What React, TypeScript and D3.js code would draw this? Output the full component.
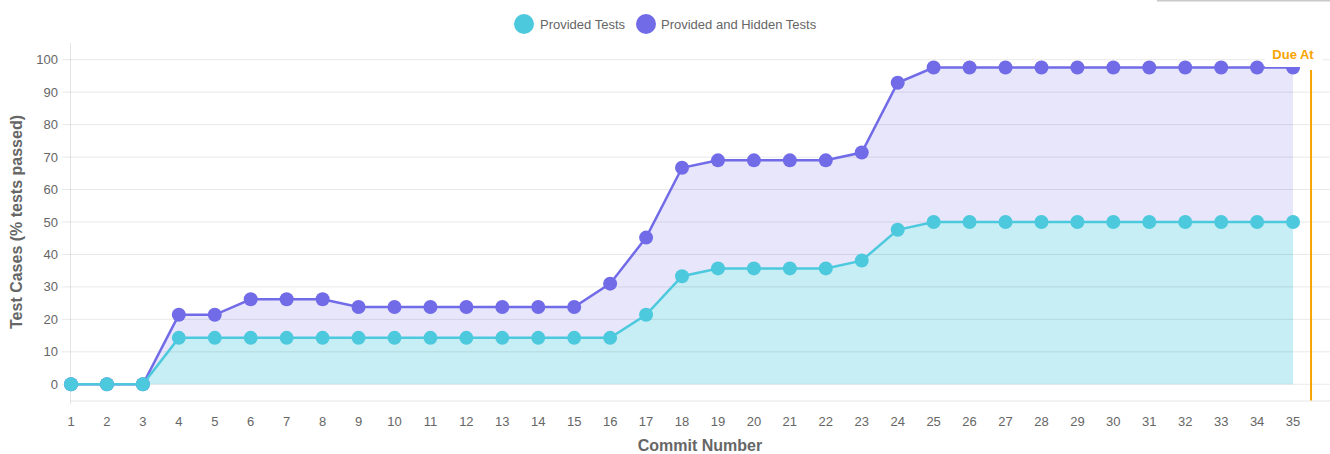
import React from "react";
import * as d3 from "d3";

const commits: number[] = Array.from({ length: 35 }, (_, i) => i + 1);
const providedTests: number[] = [
  0, 0, 0, 14.3, 14.3, 14.3, 14.3, 14.3, 14.3, 14.3, 14.3, 14.3, 14.3, 14.3, 14.3, 14.3,
  21.4, 33.3, 35.7, 35.7, 35.7, 35.7, 38.1, 47.6, 50, 50, 50, 50, 50, 50, 50, 50, 50, 50, 50,
];
const hiddenTests: number[] = [
  0, 0, 0, 21.4, 21.4, 26.2, 26.2, 26.2, 23.8, 23.8, 23.8, 23.8, 23.8, 23.8, 23.8, 31,
  45.2, 66.7, 69, 69, 69, 69, 71.4, 92.9, 97.6, 97.6, 97.6, 97.6, 97.6, 97.6, 97.6, 97.6, 97.6, 97.6, 97.6,
];
const yTicks: number[] = [0, 10, 20, 30, 40, 50, 60, 70, 80, 90, 100];
const dueAt = 35.5;
const seriesNames: string[] = ["Provided Tests", "Provided and Hidden Tests"];

const W = 1330;
const H = 454;
const CYAN = "#4dc9de";
const PURPLE = "#716be8";
const ORANGE = "#f7a400";
const FONT = "'Liberation Sans', Arial, Helvetica, sans-serif";

export default function App() {
  const x = d3.scaleLinear().domain([1, 36]).range([71, 1329]);
  const y = d3.scaleLinear().domain([-5, 105]).range([400.5, 43.5]);
  const left = 70.5;
  const right = 1330;
  const top = 43;
  const bottom = 400.5;

  const line = d3
    .line<number>()
    .x((_, i) => x(commits[i]))
    .y((d) => y(d));
  const areaCyan = d3
    .area<number>()
    .x((_, i) => x(commits[i]))
    .y0(y(0))
    .y1((d) => y(d));
  const areaPurple = d3
    .area<number>()
    .x((_, i) => x(commits[i]))
    .y0((_, i) => y(providedTests[i]))
    .y1((d) => y(d));

  return (
    <svg
      width={W}
      height={H}
      style={{ position: "absolute", left: 0, top: 0, fontFamily: FONT }}
    >
      <rect x={0} y={0} width={W} height={H} fill="#fff" />
      <rect x={1157} y={0} width={173} height={1.5} fill="#c8c8c8" />

      {/* fills */}
      <path d={areaPurple(hiddenTests) || ""} fill="rgba(113,107,232,0.17)" />
      <path d={areaCyan(providedTests) || ""} fill="rgba(77,201,222,0.32)" />

      {/* grid */}
      {yTicks.map((t) => (
        <g key={t}>
          <line x1={62} x2={right} y1={y(t)} y2={y(t)} stroke="rgba(0,0,0,0.09)" strokeWidth={1} />
          <text x={58} y={y(t) + 4.5} textAnchor="end" fontSize={13} fill="#666">
            {t}
          </text>
        </g>
      ))}
      <line x1={left} x2={left} y1={top} y2={bottom + 4} stroke="rgba(0,0,0,0.1)" strokeWidth={1} />
      <line x1={left} x2={right} y1={bottom + 0.5} y2={bottom + 0.5} stroke="rgba(0,0,0,0.1)" strokeWidth={1} />

      {commits.map((c) => (
        <text key={c} x={x(c)} y={426} textAnchor="middle" fontSize={13} fill="#666">
          {c}
        </text>
      ))}

      {/* lines */}
      <path d={line(hiddenTests) || ""} fill="none" stroke={PURPLE} strokeWidth={2.5} />
      <path d={line(providedTests) || ""} fill="none" stroke={CYAN} strokeWidth={2.5} />
      {hiddenTests.map((v, i) => (
        <circle key={"h" + i} cx={x(commits[i])} cy={y(v)} r={7} fill={PURPLE} />
      ))}
      {providedTests.map((v, i) => (
        <circle key={"p" + i} cx={x(commits[i])} cy={y(v)} r={7} fill={CYAN} />
      ))}

      {/* due at */}
      <line x1={x(dueAt)} x2={x(dueAt)} y1={70} y2={bottom} stroke={ORANGE} strokeWidth={2} />
      <rect x={1265} y={44} width={58} height={23} fill="#fff" />
      <text x={1293} y={58.5} textAnchor="middle" fontSize={13} fontWeight="bold" fill={ORANGE}>
        Due At
      </text>

      {/* legend */}
      <circle cx={524} cy={24} r={10} fill={CYAN} />
      <text x={540} y={29} fontSize={13} fill="#666">
        {seriesNames[0]}
      </text>
      <circle cx={646} cy={24} r={10} fill={PURPLE} />
      <text x={661} y={29} fontSize={13} fill="#666">
        {seriesNames[1]}
      </text>

      {/* axis titles */}
      <text
        transform={`translate(22, 222) rotate(-90)`}
        textAnchor="middle"
        fontSize={16}
        fontWeight="bold"
        fill="#666"
      >
        Test Cases (% tests passed)
      </text>
      <text x={700} y={451} textAnchor="middle" fontSize={16} fontWeight="bold" fill="#666">
        Commit Number
      </text>
    </svg>
  );
}
